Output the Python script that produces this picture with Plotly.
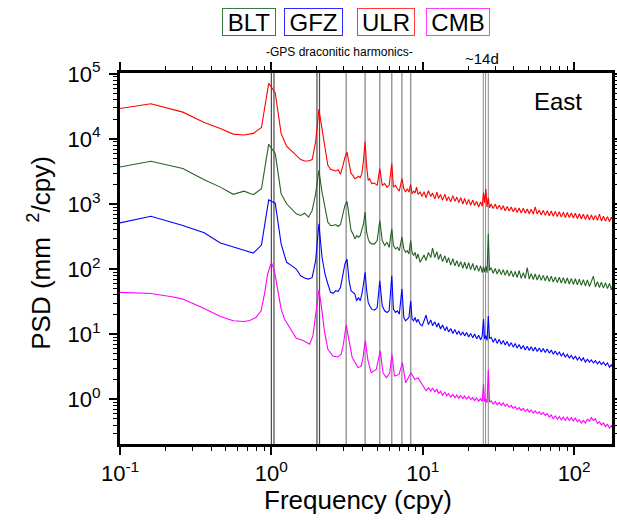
import plotly.graph_objects as go

# ---------------- data ----------------
freq_low = [0.06, 0.16, 0.26, 0.36, 0.46, 0.56, 0.66, 0.76, 0.86, 0.96,
            1.06, 1.16, 1.26, 1.36, 1.46, 1.56, 1.66, 1.76, 1.86, 1.96,
            2.06, 2.16, 2.26, 2.36, 2.46, 2.56, 2.66, 2.76, 2.86, 2.96,
            3.06, 3.16, 3.26, 3.36, 3.46, 3.56, 3.66, 3.76, 3.86, 3.96,
            4.06, 4.16, 4.26, 4.36, 4.46,
            4.6, 4.8, 5.0, 5.2, 5.4, 5.6, 5.8, 6.0, 6.24, 6.4,
            6.6, 6.8, 7.0, 7.28, 7.5, 7.7, 7.9, 8.1, 8.32, 8.5,
            8.7, 8.9, 9.1, 9.3, 9.6, 9.9]

freq_low_cmb = [0.06, 0.16, 0.22, 0.26, 0.36, 0.46, 0.56, 0.66, 0.72, 0.79,
                0.855, 0.9, 0.945, 1.0, 1.047, 1.1, 1.16, 1.22, 1.32, 1.46,
                1.61, 1.79, 1.88, 1.96, 2.06, 2.13, 2.24, 2.36, 2.55, 2.75,
                2.89, 2.99, 3.12, 3.26, 3.42, 3.73, 3.92, 4.03, 4.17, 4.35,
                4.56, 4.93, 5.24, 5.46, 5.75, 6.05, 6.26, 6.5, 6.97, 7.34,
                7.7, 8.37, 8.85, 9.3, 9.9]

freq_high = [10.2, 10.5, 10.9, 11.3, 11.6, 12.0, 12.4, 12.7, 13.1, 13.5,
             14.0, 14.4, 14.8, 15.3, 15.8, 16.3, 16.8, 17.3, 17.8, 18.4,
             18.9, 19.5, 20.1, 20.7, 21.4, 22.0, 22.7, 23.4, 24.1, 24.7,
             25.2, 25.6, 26.1, 26.6, 27.1, 27.6, 28.3, 29.2, 30.1, 31.0,
             32.0, 33.0, 34.0, 35.0, 36.1, 37.2, 38.4, 39.6, 40.8, 42.0,
             43.3, 44.7, 46.1, 47.5, 49.0, 50.5, 52.0, 53.7, 55.3, 57.0,
             58.8, 60.6, 62.5, 64.4, 66.4, 68.5, 70.6, 72.8, 75.0, 77.4,
             79.8, 82.2, 84.8, 87.4, 90.1, 92.9, 95.8, 98.8, 101.8, 105.0,
             108.2, 111.6, 115.0, 118.6, 122.3, 126.1, 130.0, 134.0, 138.2, 142.5,
             146.9, 151.4, 156.1, 161.0, 166.0, 171.1, 176.4, 180.0]

# ULR (red)
psd_ulr_low = [24500, 34800, 25900, 18000, 14500, 11900, 11500, 12200, 15000, 71800,
               51500, 12100, 7740, 6560, 5620, 4820, 4600, 4600, 4820, 9040,
               28500, 13700, 7130, 3940, 3420, 3300, 3220, 3380, 2860, 3800,
               5200, 6300, 4180, 2930, 2760, 2450, 2540, 2670, 2540, 2930,
               4710, 9040, 3720, 2310, 2450,
               2060, 2100, 1940, 3500, 1940, 2060, 1820, 1940, 4180, 1820,
               1940, 1720, 1580, 2450, 1720, 1530, 1720, 1530, 2000, 1440,
               1580, 1480, 1820, 1410, 1530, 1310]
psd_ulr_high = [1550, 1250, 1600, 1300, 1480, 1200, 1520, 1220, 1400, 1150,
                1420, 1120, 1300, 1080, 1350, 1100, 1280, 1050, 1250, 1000,
                1220, 980, 1180, 960, 1150, 950, 1100, 900, 1080, 920,
                1500, 1050, 1700, 900, 1250, 880, 1000, 850, 1000, 840,
                960, 820, 940, 790, 920, 780, 900, 760, 880, 740,
                870, 730, 860, 720, 840, 710, 830, 700, 900, 700,
                800, 680, 800, 670, 790, 660, 780, 650, 770, 640,
                760, 630, 750, 620, 740, 620, 730, 610, 720, 600,
                710, 590, 700, 580, 690, 570, 680, 570, 670, 560,
                700, 550, 650, 550, 640, 540, 630, 560]

# BLT (dark green)
psd_blt_low = [2990, 4540, 3510, 2370, 1820, 1410, 1580, 1390, 1720, 8320,
               5970, 1440, 1010, 845, 708, 667, 724, 628, 796, 1440,
               3300, 1530, 845, 526, 468, 468, 484, 451, 484, 708,
               950, 1100, 593, 391, 348, 291, 327, 309, 327, 391,
               495, 750, 369, 291, 258,
               244, 244, 274, 558, 274, 230, 258, 216, 415, 230,
               204, 216, 192, 309, 204, 181, 192, 171, 274, 181,
               161, 181, 143, 171, 127, 143]
psd_blt_high = [165, 135, 180, 150, 210, 150, 185, 140, 170, 130,
                160, 125, 150, 115, 145, 112, 135, 108, 130, 103,
                128, 100, 125, 98, 122, 95, 115, 92, 112, 88,
                108, 90, 110, 88, 350, 95, 105, 86, 102, 84,
                100, 82, 98, 80, 96, 78, 94, 76, 92, 74,
                95, 72, 88, 72, 105, 70, 85, 69, 84, 68,
                82, 67, 80, 66, 79, 64, 78, 63, 76, 62,
                75, 61, 74, 60, 73, 59, 72, 58, 71, 57,
                70, 56, 69, 55, 68, 54, 66, 78, 53, 64,
                52, 63, 51, 62, 50, 60, 48, 58]

# GFZ (blue)
psd_gfz_low = [396, 650, 468, 361, 251, 221, 195, 176, 234, 1160,
               1030, 244, 127, 113, 100, 79, 73, 70, 74.5, 135,
               495, 152, 84, 59, 43.8, 42.3, 46.5, 45.3, 52.2, 79,
               120, 143, 66, 46.5, 43.8, 41.2, 32.5, 36.6, 32.5, 41.2,
               59, 89, 46.5, 30.7, 27.2,
               24.2, 23.3, 25.6, 66, 27.2, 22.8, 21.5, 22.8, 79, 24.2,
               21.5, 22.8, 20.3, 49.2, 18, 16, 17, 18, 32.5, 17,
               16, 18, 15.1, 17, 14.2, 13.4]
psd_gfz_high = [16.0, 19.5, 14.0, 16.5, 13.5, 15.5, 12.8, 14.8, 12.0, 13.8,
                11.3, 13.0, 10.8, 12.2, 10.2, 11.8, 9.9, 11.2, 9.6, 10.8,
                9.4, 10.6, 9.0, 10.2, 8.8, 10.0, 8.5, 9.6, 8.2, 9.4,
                17.0, 8.4, 9.5, 8.0, 19.0, 8.6, 8.9, 7.5, 8.6, 7.2,
                8.3, 7.0, 8.0, 6.8, 7.7, 6.5, 7.4, 6.3, 7.2, 6.1,
                6.9, 5.9, 6.7, 5.7, 6.5, 5.6, 6.4, 5.5, 6.3, 5.4,
                6.1, 5.3, 6.0, 5.2, 5.9, 5.1, 5.7, 4.9, 5.5, 4.8,
                5.3, 4.6, 5.1, 4.4, 4.9, 4.3, 4.7, 4.1, 4.6, 4.0,
                4.4, 3.9, 4.3, 3.7, 4.1, 3.7, 4.0, 3.6, 3.9, 3.5,
                3.8, 3.4, 3.7, 3.3, 3.6, 3.1, 3.4, 3.0]

# CMB (magenta)
psd_cmb_low = [45.7, 42.2, 37.5, 34.5, 24.8, 18.6, 16.0, 15.6, 16.2, 18.0,
               22.8, 41.2, 84, 127, 94.4, 52.2, 24.2, 17.0, 12.6, 8.63,
               8.04, 6.98, 9.38, 19.1, 47.5, 28.9, 11.2, 5.85, 4.61, 4.45,
               4.9, 6.98, 13.9, 7.85, 4.35, 3.05, 3.23, 4.35, 8.04, 3.86,
               2.55, 2.87, 5.51, 2.55, 2.13, 2.55, 4.9, 2.26, 2.4, 3.64,
               1.79, 2.55, 2.01, 2.13, 1.66]
psd_cmb_high = [1.55, 1.35, 1.50, 1.32, 1.48, 1.30, 1.42, 1.22, 1.32, 1.15,
                1.28, 1.12, 1.22, 1.08, 1.18, 1.05, 1.16, 1.03, 1.14, 1.02,
                1.12, 1.00, 1.10, 0.98, 1.06, 0.95, 1.04, 0.93, 1.02, 0.92,
                1.70, 0.92, 1.00, 0.88, 2.80, 0.90, 0.94, 0.84, 0.92, 0.82,
                0.89, 0.80, 0.87, 0.78, 0.84, 0.75, 0.80, 0.72, 0.77, 0.69,
                0.74, 0.67, 0.72, 0.65, 0.70, 0.63, 0.68, 0.61, 0.66, 0.60,
                0.64, 0.58, 0.62, 0.56, 0.60, 0.53, 0.57, 0.50, 0.55, 0.49,
                0.54, 0.48, 0.53, 0.47, 0.53, 0.47, 0.52, 0.46, 0.51, 0.45,
                0.48, 0.43, 0.47, 0.43, 0.49, 0.46, 0.52, 0.47, 0.50, 0.42,
                0.45, 0.40, 0.43, 0.38, 0.41, 0.36, 0.39, 0.35]

series_names = ["BLT", "GFZ", "ULR", "CMB"]
series_colors = ["#236323", "#0000ff", "#ff0000", "#ff00ff"]
legend_border_colors = ["#3c7a3c", "#2b2bff", "#ff3b3b", "#ff3bff"]

harmonic_dark = [1.0, 1.04, 2.0, 2.08]
harmonic_light = [3.12, 4.16, 5.2, 6.24, 7.28, 8.32]
fortnight_freqs = [25.1, 26.0, 27.1]

x_tick_vals = [0.1, 1, 10, 100]
x_tick_text = ["10<sup>-1</sup>", "10<sup>0</sup>", "10<sup>1</sup>", "10<sup>2</sup>"]
y_tick_vals = [1, 10, 100, 1000, 10000, 100000]
y_tick_text = ["10<sup>0</sup>", "10<sup>1</sup>", "10<sup>2</sup>",
               "10<sup>3</sup>", "10<sup>4</sup>", "10<sup>5</sup>"]

x_range_log = [-1.0, 2.25]
y_range_log = [-0.69, 5.015]

# ---------------- figure ----------------
FONT = "Liberation Sans, Arial, Helvetica, sans-serif"
fig = go.Figure()

series = [
    (freq_low + freq_high, psd_blt_low + psd_blt_high),
    (freq_low + freq_high, psd_gfz_low + psd_gfz_high),
    (freq_low + freq_high, psd_ulr_low + psd_ulr_high),
    (freq_low_cmb + freq_high, psd_cmb_low + psd_cmb_high),
]
for (xs, ys), name, col in zip(series, series_names, series_colors):
    assert len(xs) == len(ys), (name, len(xs), len(ys))
    fig.add_trace(go.Scatter(x=xs, y=ys, mode="lines", name=name,
                             line=dict(color=col, width=1.1)))

shapes = []
for f in harmonic_dark:
    shapes.append(dict(type="line", xref="x", yref="paper", x0=f, x1=f, y0=0, y1=1,
                       line=dict(color="#4a4a4a", width=1.2), layer="below"))
for f in harmonic_light:
    shapes.append(dict(type="line", xref="x", yref="paper", x0=f, x1=f, y0=0, y1=1,
                       line=dict(color="#9a9a9a", width=1.5), layer="below"))
for f in fortnight_freqs:
    shapes.append(dict(type="line", xref="x", yref="paper", x0=f, x1=f, y0=0, y1=1,
                       line=dict(color="#8a8a8a", width=1), layer="below"))

minor_x = [m * 10 ** e for e in range(-1, 3) for m in range(2, 10)]
minor_y = [m * 10 ** e for e in range(-1, 5) for m in range(2, 10)]

axis_common = dict(type="log", showline=True, linewidth=3, linecolor="black",
                   mirror="ticks", ticks="outside", ticklen=8, tickwidth=1.5,
                   tickcolor="black", showgrid=False, zeroline=False, automargin=False,
                   tickfont=dict(family=FONT, size=22, color="black"))

fig.update_xaxes(range=x_range_log, tickmode="array", tickvals=x_tick_vals,
                 ticktext=x_tick_text,
                 minor=dict(tickmode="array", tickvals=minor_x, ticks="outside",
                            ticklen=4, tickwidth=1, tickcolor="black", showgrid=False),
                 **axis_common)
fig.update_yaxes(range=y_range_log, tickmode="array", tickvals=y_tick_vals,
                 ticktext=y_tick_text, ticklabelstandoff=4,
                 minor=dict(tickmode="array", tickvals=minor_y, ticks="outside",
                            ticklen=4, tickwidth=1, tickcolor="black", showgrid=False),
                 **axis_common)

annotations = [
    dict(text="Frequency (cpy)", x=0.484, y=-0.15, xref="paper", yref="paper",
         showarrow=False, font=dict(family=FONT, size=26, color="black"),
         xanchor="center", yanchor="middle"),
    dict(text="PSD (mm  <sup>2</sup>/cpy)", x=-0.163, y=0.515, xref="paper", yref="paper",
         showarrow=False, textangle=-90, font=dict(family=FONT, size=26, color="black"),
         xanchor="center", yanchor="middle"),
    dict(text="East", x=0.89, y=0.922, xref="paper", yref="paper", showarrow=False,
         font=dict(family=FONT, size=24, color="black"), xanchor="center", yanchor="middle"),
    dict(text="-GPS draconitic harmonics-", x=0.447, y=1.057, xref="paper", yref="paper",
         showarrow=False, font=dict(family=FONT, size=12, color="black"),
         xanchor="center", yanchor="middle"),
    dict(text="~14d", x=0.736, y=1.038, xref="paper", yref="paper", showarrow=False,
         font=dict(family=FONT, size=15, color="black"), xanchor="center", yanchor="middle"),
]
legend_x = [0.262, 0.394, 0.541, 0.687]
legend_w = [52, 57, 56, 62]
for name, bc, lx, lw in zip(series_names, legend_border_colors, legend_x, legend_w):
    annotations.append(dict(text=name, x=lx, y=1.1375, xref="paper", yref="paper",
                            showarrow=False, xanchor="center", yanchor="middle",
                            font=dict(family=FONT, size=24, color="black"),
                            bordercolor=bc, borderwidth=1, borderpad=0,
                            width=lw, height=26, bgcolor="white"))

fig.update_layout(width=617, height=521, autosize=False,
                  margin=dict(l=120, r=5, t=73, b=77, autoexpand=False),
                  plot_bgcolor="white", paper_bgcolor="white",
                  showlegend=False, shapes=shapes, annotations=annotations,
                  font=dict(family=FONT, color="black"))

fig.write_html("out.html", config={"responsive": False, "displayModeBar": False},
               post_script="document.body.style.margin='0';"
                           "document.body.style.padding='0';"
                           "document.body.style.overflow='hidden';")
